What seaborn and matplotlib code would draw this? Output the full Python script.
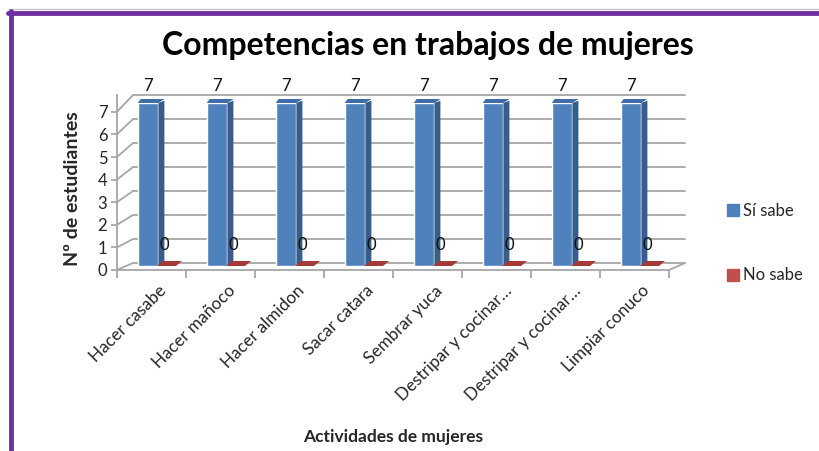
import numpy as np
import pandas as pd
import matplotlib
matplotlib.use("Agg")
import matplotlib.pyplot as plt
from matplotlib.patches import Polygon
from matplotlib.lines import Line2D
import seaborn as sns

categories = ["Hacer casabe", "Hacer mañoco", "Hacer almidon", "Sacar catara",
              "Sembrar yuca", "Destripar y cocinar…", "Destripar y cocinar…",
              "Limpiar conuco"]
si_sabe = [7, 7, 7, 7, 7, 7, 7, 7]
no_sabe = [0, 0, 0, 0, 0, 0, 0, 0]
series_names = ["Sí sabe", "No sabe"]
yticks = [0, 1, 2, 3, 4, 5, 6, 7]
title = "Competencias en trabajos de mujeres"
xlabel = "Actividades de mujeres"
ylabel = "Nº de estudiantes"

BLUE = "#4F81BD"
BLUE_SIDE = "#385D8A"
RED = "#C0504D"
RED_DARK = "#A33A37"
GRID = "#A6A6A6"

sns.set_theme(style="white")
plt.rcParams["font.family"] = ["Lato", "DejaVu Sans"]

rows = []
for i, c in enumerate(categories):
    rows.append({"cat": f"{i}", "serie": series_names[0], "val": si_sabe[i]})
    rows.append({"cat": f"{i}", "serie": series_names[1], "val": no_sabe[i]})
df = pd.DataFrame(rows)

W, H = 820, 451
fig = plt.figure(figsize=(W / 100, H / 100), dpi=100)

# layout in pixels
left_px, right_px = 117, 685
ax_top_px, ax_bot_px = 95, 270          # axes extent
bar0_px, bar7_px = 266, 103             # where bar values 0 and 7 land
cat_px = 69.0
ppu = (bar0_px - bar7_px) / 7.0         # pixels per y unit

ax = fig.add_axes([left_px / W, 1 - ax_bot_px / H,
                   (right_px - left_px) / W, (ax_bot_px - ax_top_px) / H])

sns.barplot(data=df, x="cat", y="val", hue="serie", hue_order=series_names,
            palette=[BLUE, RED], width=0.6, ax=ax, legend=False,
            saturation=1, errorbar=None)

x_left = -0.6
ax.set_xlim(x_left, x_left + (right_px - left_px) / cat_px)
ax.set_ylim(-(ax_bot_px - bar0_px) / ppu, 7 + (bar7_px - ax_top_px) / ppu)


def px2x(px):
    return x_left + (px - left_px) / cat_px


def py2y(py):
    return (bar0_px - py) / ppu


n = len(categories)
back_dx_px = 16
# back-wall gridlines with diagonal connectors to the front axis
for v in yticks:
    yb = py2y(263 - 24 * v)
    yf = py2y(270 - 22.6 * v)
    ax.plot([px2x(left_px), px2x(left_px + back_dx_px), px2x(right_px)],
            [yf, yb, yb], color=GRID, lw=1.3, zorder=0, clip_on=False,
            solid_joinstyle="miter")
# floor front edge and right edge
floor_right = left_px + n * cat_px
ax.plot([px2x(left_px), px2x(floor_right), px2x(right_px)],
        [py2y(270), py2y(270), py2y(263)], color=GRID, lw=1.3, zorder=0,
        clip_on=False)

# pseudo-3D faces for bars
dx = 6 / cat_px
dy = 4 / ppu
for k, p in enumerate(ax.patches[:2 * n]):
    x0 = p.get_x()
    w = p.get_width()
    h = p.get_height()
    if k < n:
        side = Polygon([[x0 + w, 0], [x0 + w + dx, dy * 0.5], [x0 + w + dx, h + dy * 0.6],
                        [x0 + w, h]], closed=True, fc=BLUE_SIDE, ec="none", zorder=3)
        topf = Polygon([[x0, h], [x0 + dx * 0.5, h + dy], [x0 + w + dx, h + dy],
                        [x0 + w, h]], closed=True, fc="#3F6DA8", ec="none", zorder=3)
        ax.add_patch(side)
        ax.add_patch(topf)
        ax.text(x0 + w / 2, py2y(86), f"{h:.0f}", ha="center", va="center",
                fontsize=12, color="#111111", clip_on=False)
    else:
        fx0 = px2x(157) - px2x(117) + (x0 - (x_left + 0.6 * 0 + (k - n) + 0.6))
        bx = x0 - 0.02
        flat = Polygon([[bx, py2y(266)], [bx + 19 / cat_px, py2y(266)],
                        [bx + 25 / cat_px, py2y(261)], [bx + 6 / cat_px, py2y(261)]],
                       closed=True, fc=RED_DARK, ec="none", zorder=3, clip_on=False)
        ax.add_patch(flat)
        ax.text(x0 + 0.02, py2y(245), f"{h:.0f}", ha="left", va="center",
                fontsize=12, color="#111111")

for s in ["top", "right", "bottom"]:
    ax.spines[s].set_visible(False)
ax.spines["left"].set_color(GRID)
ax.spines["left"].set_linewidth(1.3)

ax.set_yticks([py2y(270 - 22.6 * v) for v in yticks])
ax.set_yticklabels([str(v) for v in yticks], fontsize=12)
ax.tick_params(axis="y", length=4, color=GRID, pad=3, left=True)

ax.set_xticks(range(n))
ax.set_xticklabels(categories, rotation=45, ha="right", rotation_mode="anchor",
                   fontsize=12.3)
ax.tick_params(axis="x", length=0, pad=9)
bounds = [x_left + k for k in range(n + 1)]
ax.set_xticks(bounds, minor=True)
ax.tick_params(axis="x", which="minor", length=6, color=GRID, width=1.3, bottom=True)

ax.set_xlabel(xlabel, fontsize=12.5, fontweight="bold", va="center")
ax.xaxis.set_label_coords((393 - left_px) / (right_px - left_px),
                          -(437 - ax_bot_px) / (ax_bot_px - ax_top_px))
ax.set_ylabel(ylabel, fontsize=14, fontweight="bold", va="center")
ax.yaxis.set_label_coords(-(117 - 73) / (right_px - left_px),
                          (ax_bot_px - 189) / (ax_bot_px - ax_top_px))

fig.text(428 / W, 1 - 45 / H, title, ha="center", va="center",
         fontsize=23, fontweight="bold", color="#000000")

handles = [Line2D([], [], marker="s", ls="none", ms=9, color=BLUE),
           Line2D([], [], marker="s", ls="none", ms=9, color=RED)]
fig.legend(handles, series_names, loc="upper left", bbox_to_anchor=(726 / W, 1 - 203 / H),
           frameon=False, fontsize=12, handlelength=0.8, handletextpad=0.25,
           labelspacing=2.9, borderaxespad=0, borderpad=0)

# purple frame
fig.add_artist(Line2D([8 / W, 1], [1 - 9 / H, 1 - 9 / H], color="#C8C8C8", lw=1))
fig.add_artist(Line2D([8 / W, 1], [1 - 13 / H, 1 - 13 / H], color="#7030A0", lw=3.5))
fig.add_artist(Line2D([11 / W, 11 / W], [0, 1 - 11 / H], color="#7030A0", lw=3.5))

fig.savefig("out.png", dpi=100)
